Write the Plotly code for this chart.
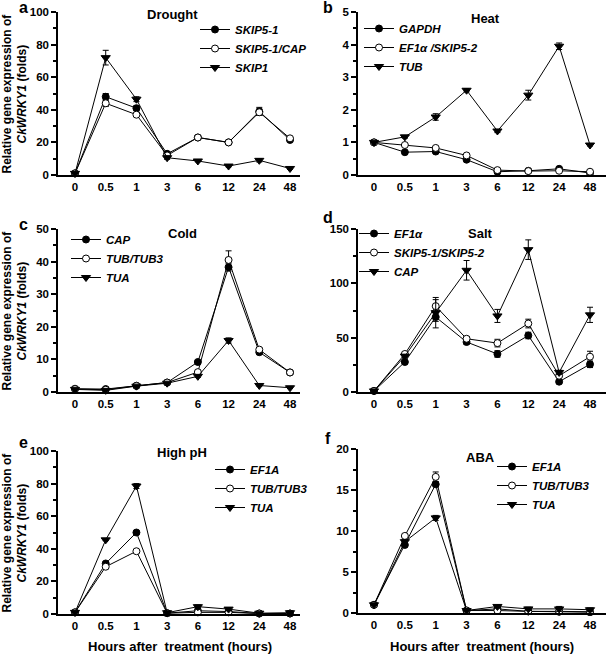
import plotly.graph_objects as go

W, H = 607, 654
FONT = "Liberation Sans, Arial, sans-serif"

hours = ["0", "0.5", "1", "3", "6", "12", "24", "48"]

# a Drought
drought_names = ["SKIP5-1", "SKIP5-1/CAP", "SKIP1"]
drought_skip5_1 = [1, 48, 41, 13, 23, 20, 39, 21.5]
drought_skip5_1_cap = [1, 44, 37, 12, 23, 20, 38.5, 22.5]
drought_skip1 = [1, 72, 46.5, 10.6, 8.6, 5.5, 9, 4]
drought_err = [[0, 2, 1.5, 1, 1, 1, 2.5, 1], [0, 2, 1, 1, 1, 1, 2, 1], [0, 4.5, 1.5, 1, 0.5, 0.5, 1, 0.5]]

# b Heat
heat_names = ["GAPDH", "EF1\u03b1 /SKIP5-2", "TUB"]
heat_gapdh = [1, 0.7, 0.72, 0.47, 0.1, 0.13, 0.19, 0.06]
heat_ef1a_skip5_2 = [1, 0.92, 0.83, 0.6, 0.15, 0.12, 0.13, 0.1]
heat_tub = [1, 1.17, 1.78, 2.6, 1.35, 2.45, 3.95, 0.92]
heat_err = [[0, 0.03, 0.03, 0.03, 0.02, 0.02, 0.02, 0.02], [0, 0.03, 0.03, 0.03, 0.02, 0.02, 0.02, 0.02], [0, 0.04, 0.1, 0.05, 0.05, 0.15, 0.1, 0.03]]

# c Cold
cold_names = ["CAP", "TUB/TUB3", "TUA"]
cold_cap = [1, 0.9, 1.9, 2.9, 9.2, 38.3, 12.2, 6]
cold_tub_tub3 = [0.9, 0.7, 1.9, 2.9, 6.1, 40.5, 13, 6]
cold_tua = [0.8, 0.5, 1.8, 2.7, 4.8, 15.8, 2, 1.3]
cold_err = [[0, 0, 0.2, 0.2, 0.5, 1.2, 0.5, 0.3], [0, 0, 0.2, 0.2, 0.5, 2.8, 0.5, 0.3], [0, 0, 0.2, 0.2, 0.3, 0.8, 0.2, 0.1]]

# d Salt
salt_names = ["EF1\u03b1", "SKIP5-1/SKIP5-2", "CAP"]
salt_ef1a = [1, 27.6, 69, 46, 35, 52, 9.5, 25.5]
salt_skip5_1_skip5_2 = [1, 35, 79, 49, 45, 63, 15, 32.5]
salt_cap = [1, 33, 73, 112, 70, 131, 18, 71]
salt_err = [[0, 1.5, 4, 2, 3, 3, 1, 3], [0, 1.5, 6, 2, 3.5, 4, 1.5, 5], [0, 1.5, 14, 9, 6, 9, 2, 7]]

# e High pH
ph_names = ["EF1A", "TUB/TUB3", "TUA"]
ph_ef1a = [1, 31, 50, 0.5, 2, 1.5, 0.3, 0.3]
ph_tub_tub3 = [1, 29, 38.5, 0.5, 1, 1, 0.3, 0.3]
ph_tua = [1, 45.5, 78.5, 0.8, 4.5, 3, 0.5, 0.8]
ph_err = [[0, 1, 1, 0.2, 0.5, 0.5, 0.2, 0.2], [0, 1, 1, 0.2, 0.5, 0.5, 0.2, 0.2], [0, 0.5, 1.5, 0.2, 1, 1, 0.2, 0.5]]

# f ABA
aba_names = ["EF1A", "TUB/TUB3", "TUA"]
aba_ef1a = [1, 8.3, 15.7, 0.3, 0.5, 0.2, 0.15, 0.1]
aba_tub_tub3 = [1, 9.4, 16.6, 0.3, 0.3, 0.2, 0.2, 0.15]
aba_tua = [1, 8.7, 11.6, 0.3, 0.8, 0.5, 0.5, 0.4]
aba_err = [[0, 0.2, 0.3, 0.05, 0.2, 0.1, 0.1, 0.1], [0, 0.2, 0.6, 0.05, 0.1, 0.1, 0.1, 0.1], [0, 0.2, 0.3, 0.05, 0.2, 0.2, 0.3, 0.2]]

panels = [
    dict(px=(58, 300), py=(12, 175), ymax=100, dtick=20, title="Drought", letter="a",
         series=[drought_skip5_1, drought_skip5_1_cap, drought_skip1], names=drought_names, errs=drought_err,
         leg=(195, 15), tt=(172, 15), lx=23, ly=7),
    dict(px=(358, 606), py=(12, 175), ymax=5, dtick=1, title="Heat", letter="b",
         series=[heat_gapdh, heat_ef1a_skip5_2, heat_tub], names=heat_names, errs=heat_err,
         leg=(359, 14), tt=(485, 18), lx=328, ly=8),
    dict(px=(58, 300), py=(229, 392), ymax=50, dtick=10, title="Cold", letter="c",
         series=[cold_cap, cold_tub_tub3, cold_tua], names=cold_names, errs=cold_err,
         leg=(66, 225), tt=(182, 233), lx=23, ly=224),
    dict(px=(358, 606), py=(229, 392), ymax=150, dtick=50, title="Salt", letter="d",
         series=[salt_ef1a, salt_skip5_1_skip5_2, salt_cap], names=salt_names, errs=salt_err,
         leg=(354, 219), tt=(480, 233), lx=328, ly=218),
    dict(px=(58, 300), py=(451, 614), ymax=100, dtick=20, title="High pH", letter="e",
         series=[ph_ef1a, ph_tub_tub3, ph_tua], names=ph_names, errs=ph_err,
         leg=(210, 455), tt=(182, 453), lx=23, ly=442),
    dict(px=(358, 606), py=(449, 613), ymax=20, dtick=5, title="ABA", letter="f",
         series=[aba_ef1a, aba_tub_tub3, aba_tua], names=aba_names, errs=aba_err,
         leg=(492, 452), tt=(480, 457), lx=328, ly=438),
]

symbols = [
    dict(symbol="circle", color="black", size=7, line=dict(color="black", width=1)),
    dict(symbol="circle", color="white", size=7, line=dict(color="black", width=1)),
    dict(symbol="triangle-down", color="black", size=8, line=dict(color="black", width=1)),
]

fig = go.Figure()
layout = dict(width=W, height=H, margin=dict(l=0, r=0, t=0, b=0, autoexpand=False),
              plot_bgcolor="white", paper_bgcolor="white", showlegend=True,
              font=dict(family=FONT, color="black"))
annotations = []
TICKFONT = dict(family=FONT, size=11.5, color="black", weight="bold")

for i, p in enumerate(panels):
    k = "" if i == 0 else str(i + 1)
    xa, ya = "x" + k, "y" + k
    lg = "legend" + k
    x0, x1 = p["px"]
    yt, yb = p["py"]
    left_col = x0 < 300
    c0 = 75 if left_col else 374
    c7 = 290 if left_col else 590
    step = (c7 - c0) / 7
    rng = [-(c0 - x0) / step, (x1 - c0) / step]
    layout["xaxis" + k] = dict(domain=[x0 / W, x1 / W], anchor=ya, type="category",
                               categoryorder="array", categoryarray=hours, range=rng,
                               showline=True, linecolor="black", linewidth=1.5, ticks="",
                               showgrid=False, zeroline=False, tickfont=TICKFONT)
    layout["yaxis" + k] = dict(domain=[1 - yb / H, 1 - yt / H], anchor=xa, range=[0, p["ymax"]],
                               dtick=p["dtick"], tick0=0, showline=True, linecolor="black", linewidth=1.5,
                               ticks="outside", ticklen=5, tickwidth=1.5, tickcolor="black",
                               minor=dict(ticks="outside", ticklen=3, tickwidth=1.5, tickcolor="black",
                                          dtick=p["dtick"] / 2, showgrid=False),
                               showgrid=False, zeroline=False, tickfont=TICKFONT)
    for j, (vals, nm) in enumerate(zip(p["series"], p["names"])):
        fig.add_trace(go.Scatter(
            x=hours, y=vals, xaxis=xa, yaxis=ya, mode="lines+markers",
            name="<i>" + nm + "</i>", legend=lg, cliponaxis=False,
            line=dict(color="black", width=1),
            marker=symbols[j],
            error_y=dict(type="data", array=p["errs"][j], color="black", thickness=1, width=3),
        ))
    lx, ly = p["leg"]
    layout[lg] = dict(x=lx / W, y=1 - ly / H, xanchor="left", yanchor="top",
                      bgcolor="rgba(0,0,0,0)", tracegroupgap=0, itemwidth=30,
                      font=dict(family=FONT, size=11.5, color="black", weight="bold"))
    tx, ty = p["tt"]
    annotations.append(dict(x=tx / W, y=1 - ty / H, xref="paper", yref="paper", text=p["title"],
                            showarrow=False, xanchor="center", yanchor="middle",
                            font=dict(family=FONT, size=13, color="black", weight="bold")))
    annotations.append(dict(x=p["lx"] / W, y=1 - p["ly"] / H, xref="paper", yref="paper", text=p["letter"],
                            showarrow=False, xanchor="center", yanchor="middle",
                            font=dict(family=FONT, size=16, color="black", weight="bold")))
    if left_col:
        annotations.append(dict(x=14 / W, y=1 - ((yt + yb) / 2) / H, xref="paper", yref="paper",
                                text="Relative gene expression of<br><i>CkWRKY1</i> (folds)",
                                textangle=-90, showarrow=False, xanchor="center", yanchor="middle",
                                font=dict(family=FONT, size=12, color="black", weight="bold")))

for cx in (180, 482):
    annotations.append(dict(x=cx / W, y=1 - 646 / H, xref="paper", yref="paper",
                            text="Hours after  treatment (hours)", showarrow=False,
                            xanchor="center", yanchor="middle",
                            font=dict(family=FONT, size=13, color="black", weight="bold")))

layout["annotations"] = annotations
fig.update_layout(**layout)
fig.write_html("out.html", config={"displayModeBar": False},
               post_script="document.body.style.margin='0';document.body.style.overflow='hidden';")
